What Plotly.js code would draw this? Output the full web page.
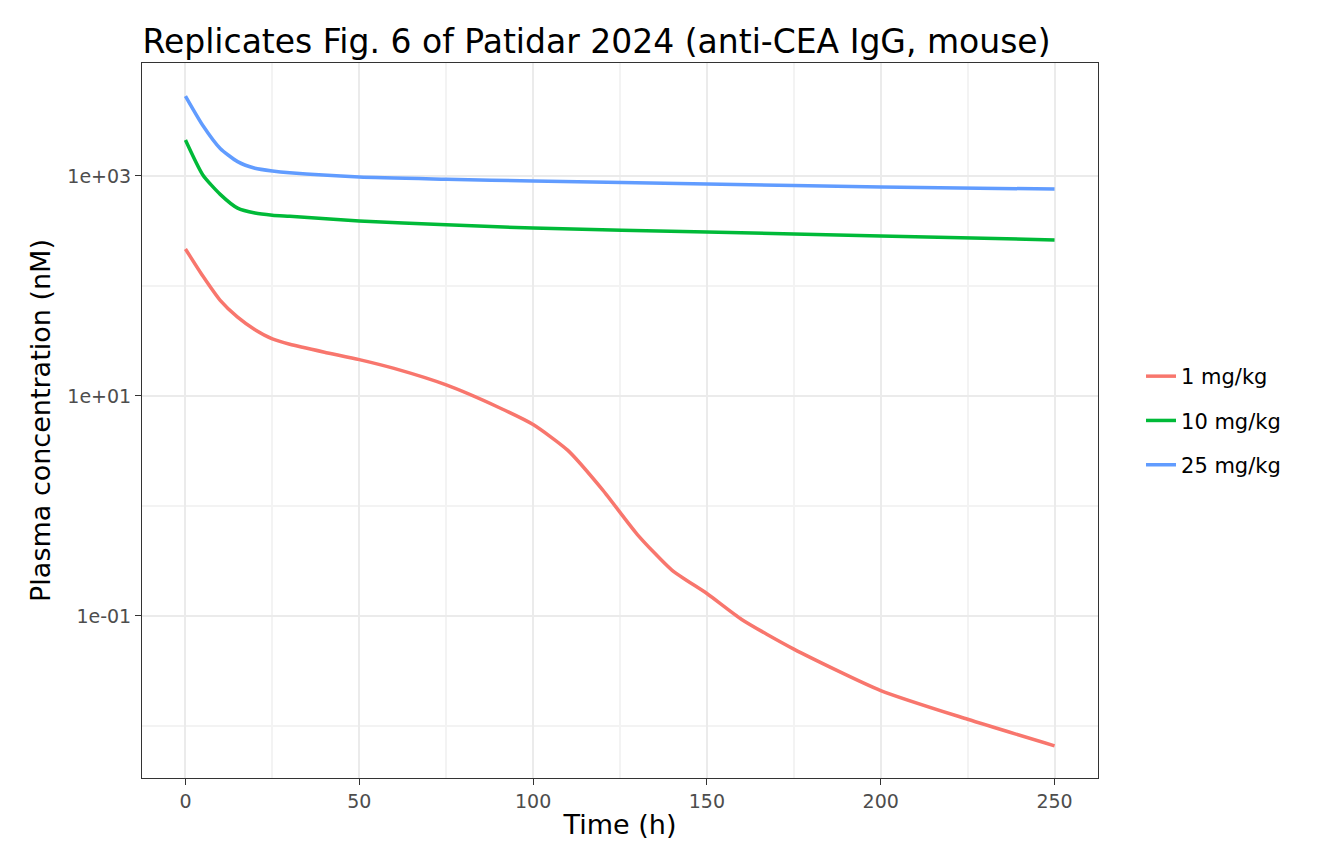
<!DOCTYPE html>
<html>
<head>
<script src="https://cdn.plot.ly/plotly-3.0.1.min.js"></script>
<style>body{margin:0}#chart{width:1344px;height:864px}</style>
</head>
<body>
<div id="chart"></div>
<script>
const tRed = [0, 5, 10, 15, 20, 25, 30, 40, 50, 60, 75, 90, 100, 110, 120, 130, 140, 150, 160, 175, 200, 225, 250];
const cRed = [217, 123, 74, 52, 40, 33, 29.5, 25, 21.4, 17.8, 12.6, 7.9, 5.5, 3.2, 1.4, 0.55, 0.26, 0.16, 0.093, 0.05, 0.021, 0.0115, 0.0066];
const tHigh = [0, 5, 10, 15, 20, 25, 30, 50, 75, 100, 150, 200, 250];
const cGreen = [2120, 1020, 680, 510, 460, 440, 430, 390, 360, 336, 309, 285, 262];
const cBlue = [5330, 2880, 1780, 1350, 1175, 1110, 1070, 980, 935, 900, 845, 795, 760];
const names = ["1 mg/kg", "10 mg/kg", "25 mg/kg"];
const colors = ["#F8766D", "#00BA38", "#619CFF"];

const series = [[tRed, cRed], [tHigh, cGreen], [tHigh, cBlue]];
const data = series.map((s, i) => ({
  x: s[0], y: s[1], name: names[i], legendgroup: "g" + i, type: "scatter", mode: "lines",
  line: { color: colors[i], width: 3.5, shape: "spline", smoothing: 0.6 },
}));

const axisCommon = {
  showline: true, mirror: true, linecolor: "#333", linewidth: 1,
  gridcolor: "#ebebeb", gridwidth: 2, zeroline: false,
  ticks: "outside", ticklen: 6, tickcolor: "#333",
  tickfont: { size: 19, color: "#4d4d4d" },
};

const layout = {
  width: 1344, height: 864,
  margin: { l: 142, r: 246, t: 63, b: 86 },
  paper_bgcolor: "white", plot_bgcolor: "white",
  font: { family: "DejaVu Sans", color: "#000" },
  title: { text: "Replicates Fig. 6 of Patidar 2024 (anti-CEA IgG, mouse)", x: 0.106, xanchor: "left", y: 0.965, font: { size: 33 } },
  xaxis: Object.assign({}, axisCommon, {
    range: [-12.5, 262.5], tickvals: [0, 50, 100, 150, 200, 250],
    minor: { tickvals: [25, 75, 125, 175, 225], showgrid: true, gridcolor: "#f3f3f3", ticks: "" },
    title: { text: "Time (h)", font: { size: 27 }, standoff: 4 },
  }),
  yaxis: Object.assign({}, axisCommon, {
    type: "log", range: [-2.473, 4.027],
    tickvals: [0.1, 10, 1000], ticktext: ["1e-01", "1e+01", "1e+03"],
    minor: { tickvals: [0.01, 1, 100], showgrid: true, gridcolor: "#f3f3f3", ticks: "" },
    title: { text: "Plasma concentration (nM)", font: { size: 27 }, standoff: 8 },
  }),
  legend: { x: 1.045, y: 0.5, yanchor: "middle", font: { size: 21 }, traceorder: "grouped", tracegroupgap: 14 },
};

Plotly.newPlot("chart", data, layout, { displayModeBar: false });
</script>
</body>
</html>
